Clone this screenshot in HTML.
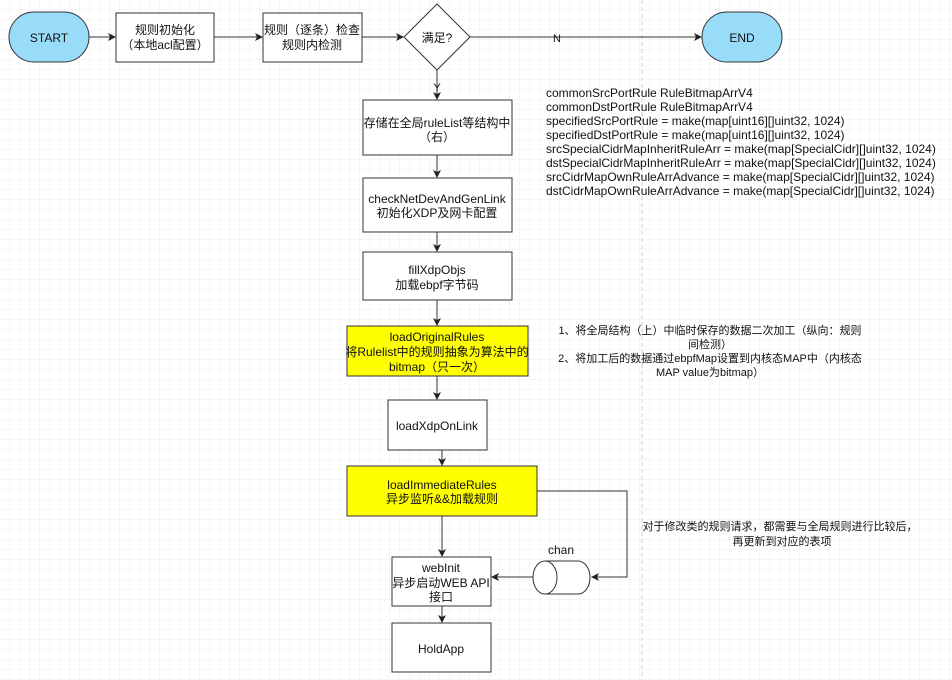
<!DOCTYPE html>
<html><head><meta charset="utf-8"><style>
html,body{margin:0;padding:0;background:#fff;}
svg{display:block;font-family:"Liberation Sans","Noto Sans CJK SC",sans-serif;}
</style></head><body>
<svg width="952" height="680" viewBox="0 0 952 680" xmlns="http://www.w3.org/2000/svg">
<defs>
<pattern id="g" width="10" height="10" patternUnits="userSpaceOnUse"><path d="M10 0V10M0 10H10" fill="none" stroke="#ececec" stroke-width="1"/></pattern>
<marker id="a" markerWidth="8" markerHeight="8" refX="7" refY="4" orient="auto" markerUnits="userSpaceOnUse"><path d="M0,0 L8,4 L0,8 L2,4 Z" fill="#222"/></marker>
</defs>
<rect width="952" height="680" fill="url(#g)"/>
<line x1="642" y1="0" x2="642" y2="680" stroke="#ccc" stroke-dasharray="4,3"/>
<g stroke="#333" fill="none" stroke-width="1">
<line x1="89" y1="37" x2="115" y2="37" marker-end="url(#a)"/>
<line x1="214" y1="37" x2="262" y2="37" marker-end="url(#a)"/>
<line x1="362" y1="37" x2="403" y2="37" marker-end="url(#a)"/>
<line x1="470" y1="37" x2="701" y2="37" marker-end="url(#a)"/>
<line x1="437" y1="70" x2="437" y2="99" marker-end="url(#a)"/>
<line x1="437" y1="155" x2="437" y2="177" marker-end="url(#a)"/>
<line x1="437" y1="232" x2="437" y2="251" marker-end="url(#a)"/>
<line x1="437" y1="300" x2="437" y2="325" marker-end="url(#a)"/>
<line x1="437" y1="376" x2="437" y2="399" marker-end="url(#a)"/>
<line x1="442" y1="450" x2="442" y2="465" marker-end="url(#a)"/>
<line x1="442" y1="516" x2="442" y2="556" marker-end="url(#a)"/>
<line x1="442" y1="606" x2="442" y2="622" marker-end="url(#a)"/>
<polyline points="537,491 627,491 627,577 592,577" marker-end="url(#a)"/>
<line x1="533" y1="577" x2="492" y2="577" marker-end="url(#a)"/>
</g>
<rect x="9" y="12" width="80" height="50" rx="25" fill="#99dcfa" stroke="#333"/>
<rect x="702" y="12" width="80" height="50" rx="25" fill="#99dcfa" stroke="#333"/>
<g fill="#fff" stroke="#333">
<rect x="116" y="13" width="98" height="49"/>
<rect x="263" y="13" width="99" height="49"/>
<polygon points="437,4 470,37 437,70 404,37"/>
<rect x="363" y="100" width="149" height="55"/>
<rect x="363" y="178" width="149" height="54"/>
<rect x="363" y="252" width="149" height="48"/>
<rect x="347" y="326" width="181" height="50" fill="#ffff00"/>
<rect x="388" y="400" width="99" height="50"/>
<rect x="347" y="466" width="190" height="50" fill="#ffff00"/>
<rect x="392" y="557" width="99" height="49"/>
<rect x="392" y="623" width="99" height="49"/>
<path d="M545,561 H578 A12,16.5 0 0 1 578,594 H545 A12,16.5 0 0 1 545,561 Z"/>
<path d="M545,561 A12,16.5 0 0 1 545,594"/>
</g>
<g font-size="12" fill="#111" text-anchor="middle">
<text x="49" y="42">START</text>
<text x="742" y="42">END</text>
<text x="165" y="34">规则初始化</text>
<text x="165" y="49">（本地acl配置）</text>
<text x="312" y="34">规则（逐条）检查</text>
<text x="312" y="49">规则内检测</text>
<text x="437" y="42">满足?</text>
<text x="557" y="42" font-size="11">N</text>
<text x="437" y="91" font-size="11">Y</text>
<text x="437" y="127">存储在全局ruleList等结构中</text>
<text x="437" y="141">（右）</text>
<text x="437" y="203">checkNetDevAndGenLink</text>
<text x="437" y="217">初始化XDP及网卡配置</text>
<text x="437" y="274">fillXdpObjs</text>
<text x="437" y="289">加载ebpf字节码</text>
<text x="437" y="341">loadOriginalRules</text>
<text x="437" y="356">将Rulelist中的规则抽象为算法中的</text>
<text x="437" y="371">bitmap（只一次）</text>
<text x="437" y="430">loadXdpOnLink</text>
<text x="442" y="489">loadImmediateRules</text>
<text x="442" y="503">异步监听&amp;&amp;加载规则</text>
<text x="441" y="572">webInit</text>
<text x="441" y="587">异步启动WEB API</text>
<text x="441" y="601">接口</text>
<text x="441" y="653">HoldApp</text>
<text x="561" y="554">chan</text>
<text x="710" y="334" font-size="11">1、将全局结构（上）中临时保存的数据二次加工（纵向：规则</text>
<text x="710" y="348" font-size="11">间检测）</text>
<text x="710" y="362" font-size="11">2、将加工后的数据通过ebpfMap设置到内核态MAP中（内核态</text>
<text x="710" y="376" font-size="11">MAP value为bitmap）</text>
<text x="780" y="530" font-size="11">对于修改类的规则请求，都需要与全局规则进行比较后，</text>
<text x="782" y="545" font-size="11">再更新到对应的表项</text>
</g>
<g font-size="12" fill="#111">
<text x="546" y="97">commonSrcPortRule RuleBitmapArrV4</text>
<text x="546" y="111">commonDstPortRule RuleBitmapArrV4</text>
<text x="546" y="125">specifiedSrcPortRule = make(map[uint16][]uint32, 1024)</text>
<text x="546" y="139">specifiedDstPortRule = make(map[uint16][]uint32, 1024)</text>
<text x="546" y="153">srcSpecialCidrMapInheritRuleArr = make(map[SpecialCidr][]uint32, 1024)</text>
<text x="546" y="167">dstSpecialCidrMapInheritRuleArr = make(map[SpecialCidr][]uint32, 1024)</text>
<text x="546" y="181">srcCidrMapOwnRuleArrAdvance = make(map[SpecialCidr][]uint32, 1024)</text>
<text x="546" y="195">dstCidrMapOwnRuleArrAdvance = make(map[SpecialCidr][]uint32, 1024)</text>
</g>
</svg>
</body></html>
